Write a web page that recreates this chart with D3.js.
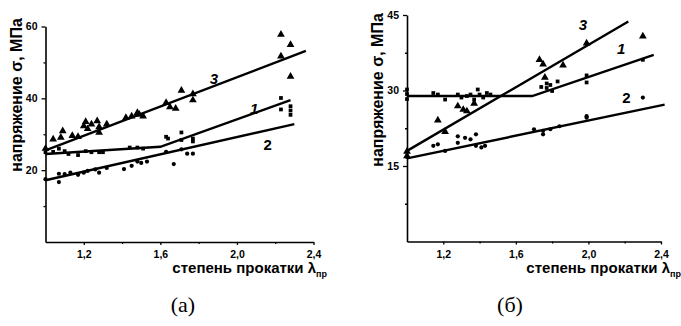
<!DOCTYPE html>
<html>
<head>
<meta charset="utf-8">
<script src="https://cdn.jsdelivr.net/npm/d3@7"></script>
<style>
  body { margin: 0; background: #fff; }
  text { font-family: "Liberation Sans", Arial, sans-serif; }
  text.caption { font-family: "Liberation Serif", "Times New Roman", serif; }
</style>
</head>
<body>
<div id="chart"></div>
<script>
// panel (a): [lambda, sigma]
const aSeries1 = [[1.0,25],[1.04,25.1],[1.07,26],[1.1,25.3],[1.12,24.5],[1.17,24.2],[1.21,25.3],[1.24,25],[1.28,25],[1.3,25],
  [1.44,26.3],[1.48,26.3],[1.51,26],[1.63,29.3],[1.64,28.8],[1.71,30.5],[1.71,28.4],[1.77,28],[1.77,28.8],
  [2.23,40.1],[2.23,36.9],[2.28,37.8],[2.28,36.6],[2.28,35.4]];
const aSeries2 = [[1.0,17.5],[1.07,16.7],[1.07,19],[1.1,18.9],[1.13,19.3],[1.17,18.7],[1.2,19.3],[1.22,19.8],[1.26,20.2],[1.28,19.3],[1.32,20.6],
  [1.41,20.3],[1.45,21.2],[1.48,22.4],[1.5,22],[1.53,22.4],[1.63,25.1],[1.67,21.7],[1.71,25.8],[1.74,24.6],[1.77,24.6]];
const aSeries3 = [[1.0,26],[1.04,28.6],[1.09,30.9],[1.08,29.1],[1.14,29.6],[1.17,29.3],[1.2,32.3],[1.21,33.5],[1.22,31.5],[1.24,32.8],
  [1.27,33.7],[1.28,32],[1.28,30.5],[1.32,32.8],[1.42,34.6],[1.45,35],[1.48,36],[1.49,35.5],[1.51,35],
  [1.63,38.8],[1.65,37.6],[1.68,37.2],[1.71,42.2],[1.77,41.2],[1.77,39.5],[2.23,57.8],[2.23,51.7],[2.28,54.9],[2.28,46.1]];
const aLine1 = [[1.0,24.5],[1.6,26.5],[2.28,39.5]];
const aLine2 = [[1.0,17.2],[2.3,32.8]];
const aLine3 = [[1.0,25.5],[2.36,53.2]];

// panel (б)
const bSeries1 = [[1.0,30.2],[1.0,29.3],[1.0,28.3],[1.145,29.5],[1.17,29.2],[1.21,28.2],[1.28,29.2],[1.3,28.6],[1.33,28.9],[1.35,29.2],
  [1.37,28.2],[1.39,30.2],[1.4,29.2],[1.42,28.6],[1.44,29.5],[1.46,29.2],[1.74,30.7],[1.77,30.5],[1.79,31.1],[1.8,29.9],[1.83,31.8],[1.77,31.4],
  [1.99,33],[1.99,31.6],[2.3,36.1]];
const bSeries2 = [[1.0,16.8],[1.145,19],[1.17,19.3],[1.21,18],[1.28,20.9],[1.28,19.6],[1.32,20.6],[1.35,20.3],[1.38,21.3],[1.38,19],[1.41,18.7],[1.43,19],
  [1.7,22.3],[1.75,22],[1.75,21.3],[1.79,22.3],[1.84,22.9],[1.99,24.9],[1.99,24.6],[2.3,28.6]];
const bSeries3 = [[1.0,17.9],[1.0,17],[1.17,24.1],[1.21,21.8],[1.28,26.9],[1.31,26.2],[1.33,25.9],[1.37,27.4],
  [1.73,36.1],[1.75,35.2],[1.76,32.6],[1.86,35],[1.99,39.4],[2.3,40.8]];
const bLine1 = [[1.0,28.9],[1.69,28.9],[2.36,37.1]];
const bLine2 = [[1.0,16.5],[2.42,27.2]];
const bLine3 = [[1.0,18],[2.22,43.7]];

const xMajor = [1.2, 1.6, 2.0, 2.4];
const xMinor = [1.4, 1.8, 2.2];
const aYMajor = [20, 40, 60], aYMinor = [10, 30, 50];
const bYMajor = [15, 30, 45], bYMinor = [7.5, 22.5, 37.5];
const aLabels = [["3", 1.88, 44, true], ["1", 2.09, 35.5, true], ["2", 2.16, 25.5, false]];
const bLabels = [["3", 1.97, 42, true], ["1", 2.18, 37.3, true], ["2", 2.21, 27.5, false]];

const svg = d3.select('#chart').append('svg')
  .attr('width', 681).attr('height', 326);

function panel(o) {
  const x = d3.scaleLinear().domain([1.0, 2.4]).range(o.xr);
  const y = d3.scaleLinear().domain([0, o.ymax]).range(o.yr);
  const g = svg.append('g');
  const fmt = d => String(d.toFixed(1)).replace('.', ',');

  // axes
  g.append('g').attr('transform', 'translate(0,' + o.yr[0] + ')')
    .call(d3.axisBottom(x).tickValues(xMajor).tickFormat(fmt).tickSize(3).tickSizeOuter(0).tickPadding(6));
  g.append('g').attr('transform', 'translate(0,' + o.yr[0] + ')')
    .call(d3.axisBottom(x).tickValues(xMinor).tickFormat('').tickSize(2).tickSizeOuter(0))
    .select('.domain').remove();
  g.append('g').attr('transform', 'translate(' + o.xr[0] + ',0)')
    .call(d3.axisLeft(y).tickValues(o.yMajor).tickFormat(d3.format('d')).tickSize(4).tickSizeOuter(0).tickPadding(4));
  g.append('g').attr('transform', 'translate(' + o.xr[0] + ',0)')
    .call(d3.axisLeft(y).tickValues(o.yMinor).tickFormat('').tickSize(2).tickSizeOuter(0))
    .select('.domain').remove();
  g.selectAll('.domain').attr('stroke-width', 1.6);
  g.selectAll('.tick line').attr('stroke-width', 1.3);
  g.selectAll('.tick text').attr('font-size', 10.5).attr('font-weight', 'bold')
    .attr('font-family', '"Liberation Sans", Arial, sans-serif');

  // fitted lines
  const line = d3.line().x(d => x(d[0])).y(d => y(d[1]));
  [o.l1, o.l2, o.l3].forEach(l => {
    g.append('path').attr('d', line(l)).attr('fill', 'none')
      .attr('stroke', '#000').attr('stroke-width', 2.4);
  });

  // points
  const sym = (type, size) => d3.symbol().type(type).size(size)();
  g.selectAll('.s3').data(o.s3).join('path')
    .attr('transform', d => 'translate(' + x(d[0]) + ',' + y(d[1]) + ')')
    .attr('d', sym(d3.symbolTriangle, 26)).attr('fill', '#000');
  g.selectAll('.s1').data(o.s1).join('path')
    .attr('transform', d => 'translate(' + x(d[0]) + ',' + y(d[1]) + ')')
    .attr('d', sym(d3.symbolSquare, 14)).attr('fill', '#000');
  g.selectAll('.s2').data(o.s2).join('path')
    .attr('transform', d => 'translate(' + x(d[0]) + ',' + y(d[1]) + ')')
    .attr('d', sym(d3.symbolCircle, 14)).attr('fill', '#000');

  // curve numbers
  o.labels.forEach(l => {
    g.append('text').attr('x', x(l[1])).attr('y', y(l[2]))
      .attr('text-anchor', 'middle').attr('font-size', 15).attr('font-weight', 'bold')
      .attr('font-style', l[3] ? 'italic' : 'normal').text(l[0]);
  });

  // axis titles
  g.append('text')
    .attr('transform', 'translate(' + o.ylx + ',' + o.yly + ') rotate(-90)')
    .attr('text-anchor', 'middle').attr('font-size', 16).attr('font-weight', 'bold')
    .text('напряжение σ, МПа');
  const xt = g.append('text').attr('x', o.xlx).attr('y', 273)
    .attr('text-anchor', 'end').attr('font-size', 15).attr('font-weight', 'bold');
  xt.append('tspan').text('степень прокатки λ');
  xt.append('tspan').attr('font-size', 9).attr('dy', 4).text('пр');

  svg.append('text').attr('class', 'caption').attr('x', o.cap).attr('y', 312)
    .attr('text-anchor', 'middle').attr('font-size', 22).text(o.caption);
}

panel({ xr: [45.5, 313.5], yr: [242, 26.5], ymax: 60, yMajor: aYMajor, yMinor: aYMinor,
  s1: aSeries1, s2: aSeries2, s3: aSeries3, l1: aLine1, l2: aLine2, l3: aLine3, labels: aLabels,
  ylx: 22, yly: 95, xlx: 327, cap: 183, caption: '(a)' });
panel({ xr: [407, 661], yr: [241.5, 15], ymax: 45, yMajor: bYMajor, yMinor: bYMinor,
  s1: bSeries1, s2: bSeries2, s3: bSeries3, l1: bLine1, l2: bLine2, l3: bLine3, labels: bLabels,
  ylx: 383, yly: 90, xlx: 681, cap: 510, caption: '(б)' });
</script>
</body>
</html>
